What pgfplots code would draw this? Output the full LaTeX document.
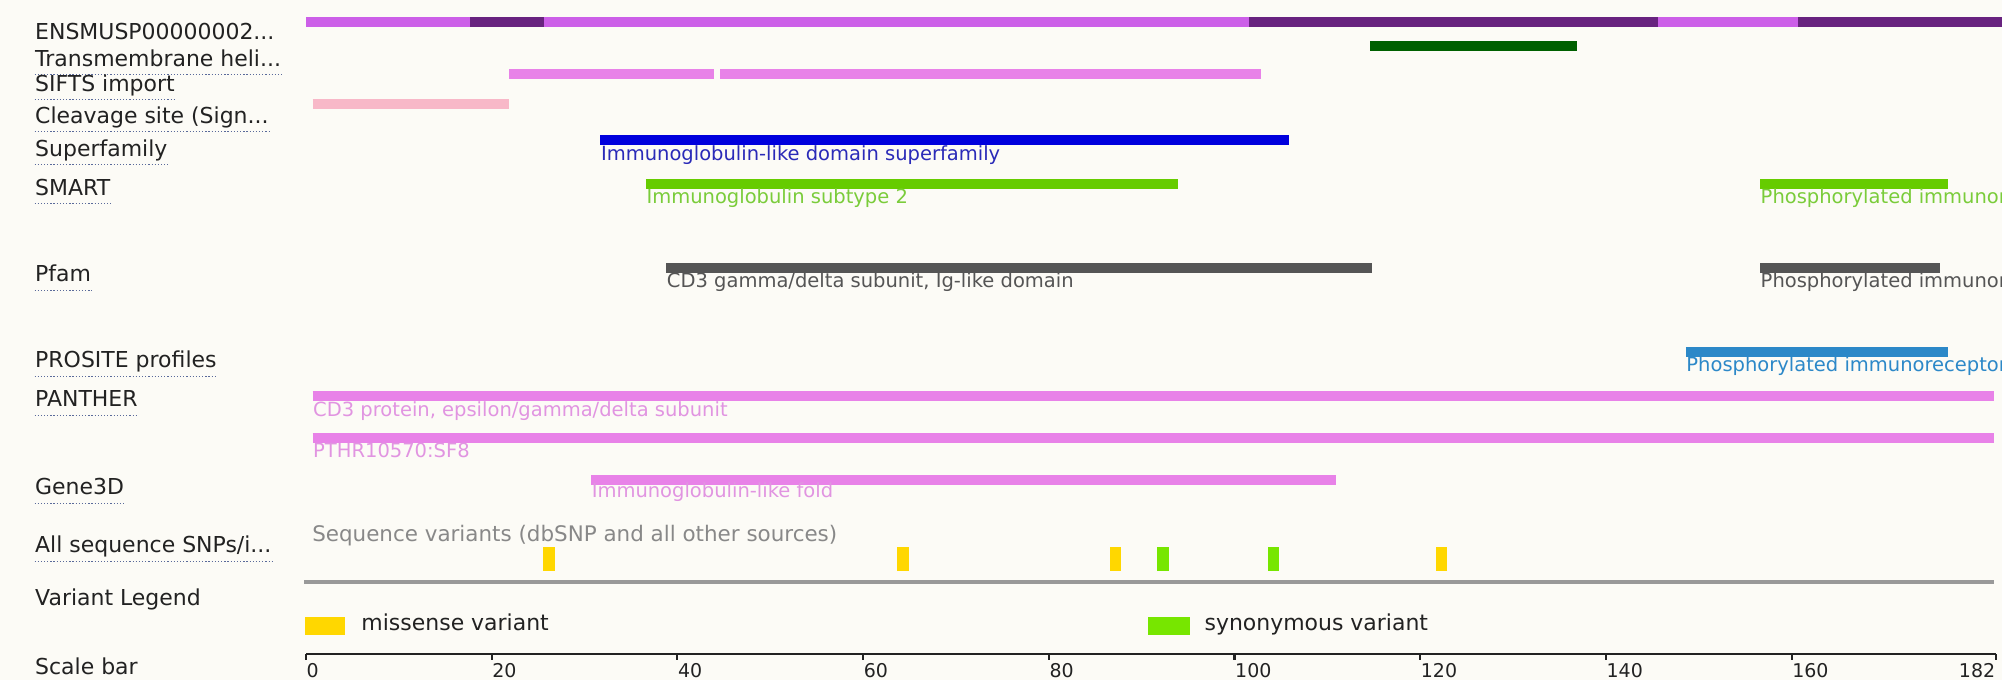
\documentclass[border=0pt]{standalone}
\usepackage{fontspec}
\setmainfont{DejaVu Sans}
\usepackage{pgfplots}
\pgfplotsset{compat=1.18}

\definecolor{bg}{HTML}{FCFBF6}
\definecolor{ensl}{HTML}{CC5FE8}
\definecolor{ensd}{HTML}{68237F}
\definecolor{tmh}{HTML}{006000}
\definecolor{vio}{HTML}{E882E8}
\definecolor{cleav}{HTML}{F8B8C8}
\definecolor{sfam}{HTML}{0000DD}
\definecolor{sfamtxt}{HTML}{2A2AB8}
\definecolor{smart}{HTML}{66CC00}
\definecolor{smarttxt}{HTML}{7ACC3A}
\definecolor{pfam}{HTML}{555555}
\definecolor{prosite}{HTML}{2C88C8}
\definecolor{vioTxt}{HTML}{E194E1}
\definecolor{miss}{HTML}{FFD700}
\definecolor{syn}{HTML}{77E600}
\definecolor{lbl}{HTML}{222222}
\definecolor{ul}{HTML}{5A6A9A}
\definecolor{snptxt}{HTML}{888888}
\definecolor{rule}{HTML}{999999}

\newcommand{\lblfont}{\fontsize{6.25}{7}\selectfont}
\newcommand{\barfont}{\fontsize{5.55}{6}\selectfont}

\tikzset{
  featbar/.style={line width=2.7pt},
  lblnode/.style={anchor=base west, inner sep=0pt, font=\lblfont, text=lbl, text depth=0.22em},
  barlbl/.style={anchor=base west, inner sep=0pt, font=\barfont},
  ulstyle/.style={ul, line width=0.45pt, dash pattern=on 0.35pt off 0.55pt},
}

\begin{document}
\begin{tikzpicture}
\begin{axis}[
  scale only axis, width=20.02cm, height=6.8cm,
  xmin=-32.957, xmax=182.66, ymin=0, ymax=680, y dir=reverse,
  axis line style={draw=none}, xtick=\empty, ytick=\empty,
  axis background/.style={fill=bg},
  every axis plot/.append style={line cap=butt},
]
% ---- row labels ----
\node[lblnode] at (axis cs:-29.24,39) {ENSMUSP00000002...};
\node[lblnode] (l2) at (axis cs:-29.24,66) {Transmembrane heli...};
\draw[ulstyle] (l2.south west) -- (l2.south east);
\node[lblnode] (l3) at (axis cs:-29.24,91) {SIFTS import};
\draw[ulstyle] (l3.south west) -- (l3.south east);
\node[lblnode] (l4) at (axis cs:-29.24,123) {Cleavage site (Sign...};
\draw[ulstyle] (l4.south west) -- (l4.south east);
\node[lblnode] (l5) at (axis cs:-29.24,156) {Superfamily};
\draw[ulstyle] (l5.south west) -- (l5.south east);
\node[lblnode] (l6) at (axis cs:-29.24,195) {SMART};
\draw[ulstyle] (l6.south west) -- (l6.south east);
\node[lblnode] (l7) at (axis cs:-29.24,282) {Pfam};
\draw[ulstyle] (l7.south west) -- (l7.south east);
\node[lblnode] (l8) at (axis cs:-29.24,368) {PROSITE profiles};
\draw[ulstyle] (l8.south west) -- (l8.south east);
\node[lblnode] (l9) at (axis cs:-29.24,407) {PANTHER};
\draw[ulstyle] (l9.south west) -- (l9.south east);
\node[lblnode] (l10) at (axis cs:-29.24,495) {Gene3D};
\draw[ulstyle] (l10.south west) -- (l10.south east);
\node[lblnode] (l11) at (axis cs:-29.24,553) {All sequence SNPs/i...};
\draw[ulstyle] (l11.south west) -- (l11.south east);
\node[lblnode] at (axis cs:-29.24,606) {Variant Legend};
\node[lblnode] at (axis cs:-29.24,675) {Scale bar};

% ---- protein / exon track ----
\addplot[ensl, featbar] coordinates {(0,22) (17.7,22)};
\addplot[ensd, featbar] coordinates {(17.7,22) (25.6,22)};
\addplot[ensl, featbar] coordinates {(25.6,22) (101.6,22)};
\addplot[ensd, featbar] coordinates {(101.6,22) (145.6,22)};
\addplot[ensl, featbar] coordinates {(145.6,22) (160.7,22)};
\addplot[ensd, featbar] coordinates {(160.7,22) (183,22)};
% transmembrane
\addplot[tmh, featbar] coordinates {(114.6,46) (136.9,46)};
% SIFTS
\addplot[vio, featbar] coordinates {(21.9,74) (43.9,74)};
\addplot[vio, featbar] coordinates {(44.6,74) (102.9,74)};
% cleavage
\addplot[cleav, featbar] coordinates {(0.7,104) (21.9,104)};
% superfamily
\addplot[sfam, featbar] coordinates {(31.7,140) (105.9,140)};
\node[barlbl, text=sfamtxt] at (axis cs:31.7,160) {Immunoglobulin-like domain superfamily};
% SMART
\addplot[smart, featbar] coordinates {(36.6,184) (93.9,184)};
\addplot[smart, featbar] coordinates {(156.6,184) (176.8,184)};
\node[barlbl, text=smarttxt] at (axis cs:36.6,203) {Immunoglobulin subtype 2};
\node[barlbl, text=smarttxt] at (axis cs:156.6,203) {Phosphorylated immunoreceptor tyrosine-based activation motif};
% Pfam
\addplot[pfam, featbar] coordinates {(38.8,268) (114.8,268)};
\addplot[pfam, featbar] coordinates {(156.6,268) (176.0,268)};
\node[barlbl, text=pfam] at (axis cs:38.8,288) {CD3 gamma/delta subunit, Ig-like domain};
\node[barlbl, text=pfam] at (axis cs:156.6,288) {Phosphorylated immunoreceptor tyrosine-based activation motif};
% PROSITE
\addplot[prosite, featbar] coordinates {(148.6,352) (176.8,352)};
\node[barlbl, text=prosite] at (axis cs:148.6,372) {Phosphorylated immunoreceptor tyrosine-based activation motif};
% PANTHER
\addplot[vio, featbar] coordinates {(0.7,396) (181.8,396)};
\node[barlbl, text=vioTxt] at (axis cs:0.7,417) {CD3 protein, epsilon/gamma/delta subunit};
\addplot[vio, featbar] coordinates {(0.7,438) (181.8,438)};
\node[barlbl, text=vioTxt] at (axis cs:0.7,458) {PTHR10570:SF8};
% Gene3D
\addplot[vio, featbar] coordinates {(30.7,480) (110.9,480)};
\node[barlbl, text=vioTxt] at (axis cs:30.7,498) {Immunoglobulin-like fold};
% variants
\node[anchor=base west, inner sep=0pt, font=\fontsize{6.1}{7}\selectfont, text=snptxt] at (axis cs:0.6,542) {Sequence variants (dbSNP and all other sources)};
\addplot[only marks, mark=|, mark size=3.4pt, color=miss, mark options={line width=3.3pt}]
  coordinates {(26.2,559) (64.3,559) (87.2,559) (122.3,559)};
\addplot[only marks, mark=|, mark size=3.4pt, color=syn, mark options={line width=3.3pt}]
  coordinates {(92.3,559) (104.2,559)};
\addplot[rule, line width=0.9pt] coordinates {(-0.2,582) (181.8,582)};
% legend
\addplot[miss, line width=5.1pt] coordinates {(-0.1,626) (4.2,626)};
\node[anchor=base west, inner sep=0pt, font=\lblfont, text=lbl] at (axis cs:5.9,631) {missense variant};
\addplot[syn, line width=5.1pt] coordinates {(90.7,626) (95.2,626)};
\node[anchor=base west, inner sep=0pt, font=\lblfont, text=lbl] at (axis cs:96.7,631) {synonymous variant};
\end{axis}

% ---- scale bar ----
\begin{axis}[
  at={(3.06cm,0.26cm)}, anchor=south west,
  scale only axis, width=16.899cm, height=0.2cm,
  xmin=0, xmax=182, ymin=0, ymax=1,
  axis x line=bottom, axis y line=none,
  x axis line style={-, line width=0.8pt, color=lbl},
  xtick={0,20,...,160}, extra x ticks={182},
  tick align=outside, major tick length=0.06cm,
  tick style={lbl, line width=0.6pt},
  /pgf/number format/assume math mode=true,
  xticklabel style={anchor=north west, inner sep=0pt, font=\fontsize{5.4}{6}\selectfont, text=lbl, yshift=-0.03cm},
  extra x tick style={xticklabel style={anchor=north east}},
]
\end{axis}
\end{tikzpicture}
\end{document}
